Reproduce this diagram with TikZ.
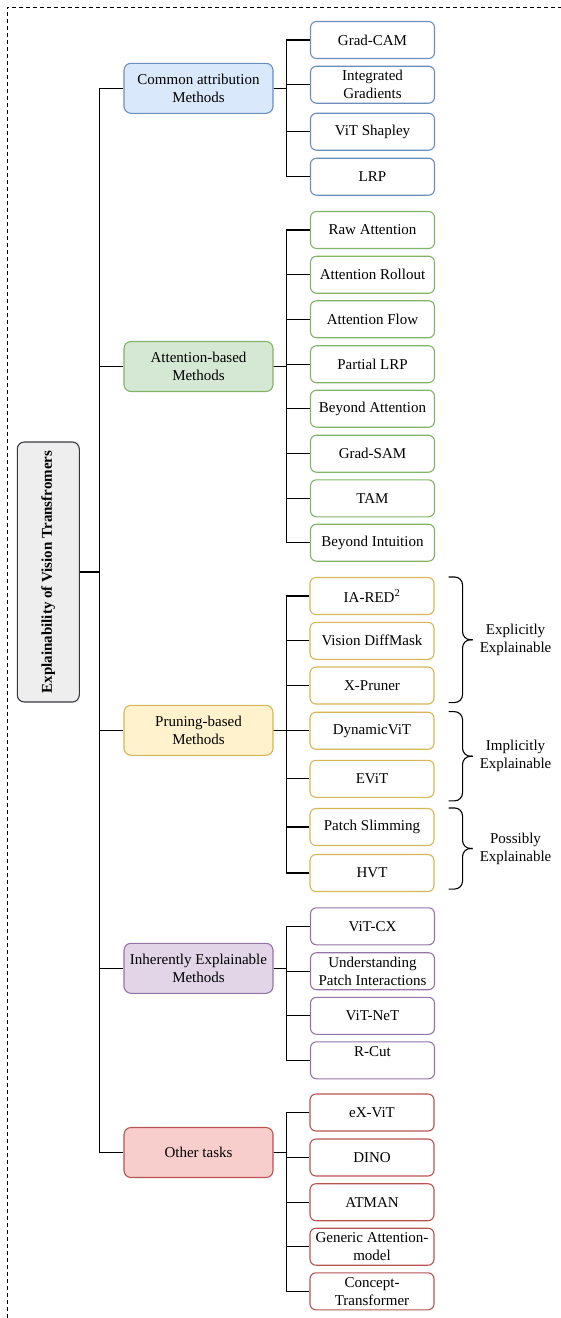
\documentclass[tikz,border=0pt]{standalone}
\usepackage{fontspec}
\setmainfont{Liberation Serif}
\usepackage{tikz}
\usetikzlibrary{calc,positioning}
\definecolor{rootfill}{HTML}{EEEEEE}
\definecolor{rootline}{HTML}{36393D}
\definecolor{bluefill}{HTML}{DAE8FC}
\definecolor{blueline}{HTML}{6C8EBF}
\definecolor{greenfill}{HTML}{D5E8D4}
\definecolor{greenline}{HTML}{82B366}
\definecolor{yellowfill}{HTML}{FFF2CC}
\definecolor{yellowline}{HTML}{D6B656}
\definecolor{purplefill}{HTML}{E1D5E7}
\definecolor{purpleline}{HTML}{9673A6}
\definecolor{redfill}{HTML}{F8CECC}
\definecolor{redline}{HTML}{B85450}
\tikzstyle{rootbox}=[draw=rootline,fill=rootfill,rounded corners=7pt,line width=1.1pt,minimum width=62pt,minimum height=260pt,inner sep=0pt,font=\fontsize{15}{18}\selectfont\bfseries]
\tikzstyle{catbox}=[rounded corners=7pt,line width=1.1pt,minimum width=149pt,minimum height=50pt,align=center,inner sep=2pt]
\tikzstyle{leafbox}=[rounded corners=6pt,fill=white,line width=1.1pt,minimum width=124pt,minimum height=37pt,align=center,inner sep=1pt]
\tikzstyle{treeline} = [draw,line width=1.2pt]
\tikzstyle{bracket} = [draw,line width=1.1pt,rounded corners=8pt]
\tikzstyle{bracetext} = [align=center,inner sep=0pt,anchor=west]
\tikzstyle{outerframe} = [draw,line width=0.8pt,dash pattern=on 4pt off 3pt]

\begin{document}
\begin{tikzpicture}[x=1pt,y=-1pt,font=\fontsize{15}{18}\selectfont]
    \useasboundingbox (0,0) rectangle (561,1318);
    \path[outerframe] (7,1318) -- (7,7) -- (561,7);

    % Root and the five groups
    \node[rootbox] (root) at (48.3,572) {\rotatebox{90}{Explainability of Vision Transfromers}};

    \foreach \pos/ \name/ \text/ \fcol/ \dcol in {{(198.5,88.3)/cam/{Common attribution\\Methods}/bluefill/blueline},
        {(198.5,366.5)/att/{Attention-based\\Methods}/greenfill/greenline},
        {(198.5,730.3)/prn/{Pruning-based\\Methods}/yellowfill/yellowline},
        {(198.5,968.3)/inh/{Inherently Explainable\\Methods}/purplefill/purpleline},
        {(198.5,1152.5)/oth/{Other tasks}/redfill/redline}}
        \node[catbox,fill=\fcol,draw=\dcol] (\name) at \pos {\text};

    % Then the methods of each group
    \foreach \pos/ \name/ \text in {{(372.5,40)/gcam/Grad-CAM},{(372.5,84.7)/igrad/{Integrated\\Gradients}},
        {(372.5,131.7)/vshap/ViT Shapley},{(372.5,176.7)/lrp/LRP}}
        \node[leafbox,draw=blueline] (\name) at \pos {\text};

    \foreach \pos/ \name/ \text in {{(372.5,230)/raw/Raw Attention},{(372.5,274.7)/roll/Attention Rollout},
        {(372.5,319.2)/flow/Attention Flow},{(372.5,364.2)/plrp/Partial LRP},
        {(372.5,408.7)/batt/Beyond Attention},{(372.5,453.7)/gsam/Grad-SAM},
        {(372.5,498.3)/tam/TAM},{(372.5,542.7)/bint/Beyond Intuition}}
        \node[leafbox,draw=greenline] (\name) at \pos {\text};

    \foreach \pos/ \name/ \text in {{(372,596)/iared/IA-RED\textsuperscript{2}},{(372,640.8)/dmask/Vision DiffMask},
        {(372,685.5)/xprun/X-Pruner},{(372,730.7)/dvit/DynamicViT},{(372,778.8)/evit/EViT},
        {(372,827)/pslim/Patch Slimming},{(372,873)/hvt/HVT}}
        \node[leafbox,draw=yellowline] (\name) at \pos {\text};

    \foreach \pos/ \name/ \text in {{(372.5,926.3)/vcx/ViT-CX},{(372.5,971.2)/upi/{Understanding\\Patch Interactions}},
        {(372.5,1015.8)/vnet/ViT-NeT},{(372.5,1060.3)/rcut/{R-Cut\\\mbox{}}}}
        \node[leafbox,draw=purpleline] (\name) at \pos {\text};

    \foreach \pos/ \name/ \text in {{(372,1112.5)/exvit/eX-ViT},{(372,1157.5)/dino/DINO},{(372,1202.2)/atman/ATMAN},
        {(372,1246.7)/gam/{Generic Attention-\\model}},{(372,1291.3)/ctr/{Concept-\\Transformer}}}
        \node[leafbox,draw=redline] (\name) at \pos {\text};

    % Connect root to groups and groups to methods
    \foreach \dest in {cam,att,prn,inh,oth}
        \path[treeline] (root.east) -- ++(20,0) |- (\dest.west);

    \foreach \source/ \dest in {cam/gcam,cam/igrad,cam/vshap,cam/lrp,
        att/raw,att/roll,att/flow,att/plrp,att/batt,att/gsam,att/tam,att/bint,
        prn/iared,prn/dmask,prn/xprun,prn/dvit,prn/evit,prn/pslim,prn/hvt,
        inh/vcx,inh/upi,inh/vnet,inh/rcut,
        oth/exvit,oth/dino,oth/atman,oth/gam,oth/ctr}
        \path[treeline] (\source.east) -- ++(13,0) |- (\dest.west);

    % Braces for the pruning methods
    \foreach \top/ \bot/ \dy/ \text in {iared/xprun/-2/{Explicitly\\Explainable},
        dvit/evit/3/{Implicitly\\Explainable},pslim/hvt/-3/{Possibly\\Explainable}}
    {
        \coordinate (bt) at ($(\top.north east)+(14,0)$);
        \coordinate (bb) at ($(\bot.south east)+(14,\dy)$);
        \coordinate (bm) at ($(bt)!0.5!(bb)+(24,0)$);
        \path[bracket] (bt) -- ++(14,0) |- (bm);
        \path[bracket] (bb) -- ++(14,0) |- (bm);
        \node[bracetext] (lbl\top) at ($(bm)+(7,0)$) {\text};
    }
\end{tikzpicture}
\end{document}
